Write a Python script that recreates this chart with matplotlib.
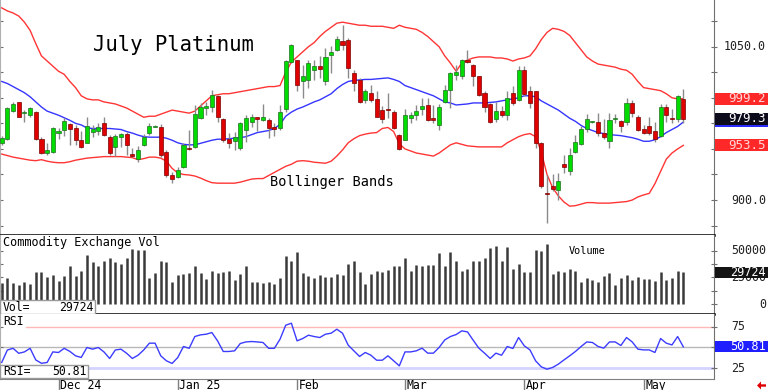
import matplotlib
matplotlib.use('Agg')
import matplotlib.pyplot as plt
import numpy as np
import pandas as pd
from matplotlib.patches import Rectangle, Polygon
from matplotlib.transforms import blended_transform_factory

# ---------------- data ----------------
holidays = ['2024-11-28', '2024-12-25', '2025-01-01', '2025-01-20', '2025-02-17', '2025-04-18']
dates = pd.bdate_range('2024-11-15', '2025-05-12')
dates = dates[~dates.isin(pd.to_datetime(holidays))]

opens = [956, 960, 987, 995.5, 985, 983.3, 986.6, 959.5, 945.8, 947.4,
         965.4, 968.7, 974.2, 970.3, 958.9, 956.2, 966.4, 967.7, 975.2, 962,
         951.7, 961.5, 964.7, 944.8, 940.2, 954, 965.4, 971.5, 971.9, 947.4,
         924.5, 922.3, 932.7, 951, 952.3, 980, 990, 991.5, 1002, 979.4,
         959.5, 957.9, 951.3, 968.7, 976.1, 981, 978.5, 978.5, 971.9, 970.3,
         988.9, 1034.6, 1037.3, 1016.7, 1017.7, 1027.5, 1030.7, 1016.7, 1042.2, 1047.1,
         1055.9, 1056.9, 1024.2, 1017.7, 998.1, 1004.6, 999, 987.6, 988.8, 986.6,
         963.5, 958.9, 980.1, 983.4, 988.9, 993.2, 980.1, 973.6, 996.4, 1007.9,
         1022.6, 1020.9, 1036.6, 1032.4, 1020.9, 1005.2, 993.8, 979.1, 987.3, 983.4,
         1005.2, 998.1, 1027.5, 1006.2, 1006.2, 956.2, 906, 913.7, 909.9, 935.3,
         928.8, 947.4, 954.9, 969.6, 976, 976.5, 966, 957.3, 979, 977.5,
         976.8, 994.8, 981.7, 969.3, 972.6, 967.4, 962.8, 990.9, 979.5, 979.1,
         998.9]
highs = [963, 991, 995.5, 996, 988, 991.5, 987, 962, 955.6, 971,
         970.3, 980, 975.2, 973.6, 967.7, 981.7, 973.6, 975.8, 981.7, 963.8,
         964.7, 965.4, 967, 951.3, 953, 964.7, 975.2, 973, 974.5, 949,
         927.8, 932.7, 955.6, 968.7, 993.2, 994.8, 995.8, 1007.9, 1003, 980.1,
         965.4, 967, 976.8, 983.4, 984, 981.7, 993.8, 980.1, 975.2, 993.2,
         1036.6, 1052.6, 1037.3, 1032.4, 1037.3, 1037.3, 1040.5, 1048.7, 1050.3, 1060.1,
         1071.6, 1058.5, 1027.5, 1019.3, 1008.5, 1012.8, 1006.2, 992.2, 1005.2, 988.3,
         964.7, 989, 986.6, 993.2, 999.7, 999.7, 993.2, 994.2, 1012.8, 1024.9,
         1032.4, 1038, 1046.4, 1033.3, 1021.6, 1006.2, 995.4, 996.4, 992.2, 1006.2,
         1011.1, 1031.4, 1031.4, 1011.1, 1006.2, 957.2, 924.5, 925.5, 926.2, 944.2,
         950.7, 963.8, 972.9, 984.3, 977, 985.6, 979.1, 985, 984, 978.5,
         999.7, 998.1, 983.4, 973.6, 981.7, 976.8, 994.2, 994.2, 989, 1003,
         1008.6]
lows = [954, 959, 986.5, 981, 976, 981.7, 959, 945.1, 944.2, 946.5,
        959.8, 962.8, 954, 954, 950.7, 955.6, 962, 963.8, 962.8, 944.2,
        943.5, 952.3, 944.2, 942.5, 937.6, 953, 963.8, 971, 942.5, 922.9,
        917, 921.3, 931, 949, 950.7, 979.4, 983.4, 986.6, 976.8, 957.2,
        950.7, 949, 949, 957.2, 971.9, 967.7, 977.5, 961.1, 963, 968.7,
        986.6, 1034, 1006.9, 999.7, 1009.5, 1017.7, 1019.3, 1012.8, 1024.2, 1045.4,
        1047.1, 1019.3, 1006.2, 994.8, 995.4, 996.4, 981.1, 975.2, 980.1, 969.3,
        949, 958.9, 975.2, 978.5, 983.4, 977.8, 975.2, 968.7, 994.8, 989.9,
        1017.7, 1018.3, 1034, 1011.1, 1002, 986.6, 975.8, 976.8, 981.1, 978.5,
        993.2, 997, 1002, 989.9, 950.7, 911.5, 877.2, 909.2, 900.1, 926.2,
        924.5, 945.8, 954, 967, 975, 962.8, 959.8, 950.7, 975.2, 967,
        973.6, 981.7, 968, 964.7, 963.8, 957.2, 962, 976.8, 975.2, 976.8,
        975.8]
closes = [961, 990, 994, 981.7, 986, 990.5, 959.8, 946.4, 949, 970.3,
          968, 977.5, 969.6, 958.9, 951.7, 972.9, 969.6, 971.9, 963.7, 946.4,
          962.8, 964.7, 954, 943.5, 949, 961.5, 972.6, 972, 944.2, 924.5,
          920.6, 929.5, 954, 950, 984, 991.5, 992, 1003, 981.7, 958.9,
          956.2, 962, 975.2, 980.7, 981, 979.7, 981.7, 970.3, 969.6, 986.6,
          1035.6, 1051.3, 1012.1, 1020.9, 1034, 1030.7, 1028.4, 1040, 1044.8, 1057.8,
          1051.3, 1029.1, 1014.4, 996.4, 1006.2, 998.1, 981.7, 979.4, 988.3, 970.3,
          949.7, 983.4, 983.4, 987.3, 992.2, 978.5, 978.5, 991.5, 1007.9, 1024.2,
          1024.9, 1036.6, 1034.6, 1020.9, 1003, 991.5, 976.8, 987.3, 983.4, 999.7,
          995.4, 1027.5, 1003.9, 994.8, 956.2, 913.7, 905.6, 910.5, 919, 932.7,
          944.2, 956.6, 969.6, 979.1, 976.5, 966, 962, 978.5, 979.5, 972.6,
          994.8, 985, 968.7, 966, 965.4, 959.5, 991.5, 983.4, 979, 1001.5,
          979.3]
upper_band = [1088, 1085, 1083, 1080, 1074, 1066, 1053, 1041, 1036, 1031,
              1026, 1023, 1016, 1010, 1002, 999, 998, 998, 996, 995,
              994, 992, 990, 987, 984, 981, 982, 982, 984, 986,
              988, 987, 986, 985, 987, 992, 997, 1002, 1003, 1004,
              1004, 1005, 1006, 1007, 1008, 1009, 1010, 1011, 1011, 1012,
              1025, 1035, 1040, 1045, 1050, 1054, 1060, 1065, 1069, 1073,
              1074, 1073, 1072, 1071, 1071, 1070, 1070, 1070, 1069, 1068,
              1071, 1069, 1068, 1067, 1064, 1060, 1055, 1050, 1041, 1034,
              1026, 1034, 1037, 1039, 1040, 1040, 1040, 1039, 1039, 1038,
              1036, 1038, 1039, 1041, 1048, 1057, 1064, 1068, 1067, 1065,
              1061, 1054, 1047, 1040, 1036, 1033, 1032, 1031, 1030, 1028,
              1027, 1023, 1016, 1010, 1009, 1008, 1007, 1004, 1000, 999,
              999.2]
middle_band = [1016, 1014, 1011, 1008, 1005, 1001, 996, 991, 987, 985,
               983, 980.5, 978, 975, 973.5, 970.5, 970, 970, 970, 970,
               969.5, 969, 967, 965.5, 963.5, 962, 961.5, 961.5, 961.5, 960.5,
               958.5, 956, 954.5, 954, 954, 955.5, 957, 958.5, 959.5, 959.5,
               960, 960.5, 961, 962, 964, 966, 967, 968, 970, 974,
               982, 986, 989, 991, 993.5, 996, 998, 1001, 1004, 1009,
               1013, 1016, 1017, 1017.5, 1018, 1018, 1018.5, 1019, 1019.5, 1018,
               1016, 1012, 1010, 1008, 1006, 1004, 1002, 999, 996, 995,
               993, 993.5, 994, 995, 995, 995, 995.5, 996, 997, 998,
               999, 1000, 1002, 1002, 1001, 997, 994, 991, 988, 984,
               980, 977, 973, 970, 968, 966, 965, 964, 963.5, 963,
               962, 961, 959.5, 957.5, 957.5, 959, 962, 966, 969, 972,
               976.3]
lower_band = [945, 943.5, 942, 941, 940, 939, 938.5, 939.5, 938, 937,
              936.5, 936.5, 937.5, 939, 940, 941, 941.5, 942, 942.5, 942.5,
              942.5, 942.5, 942, 941.5, 939.5, 940.5, 942, 942, 941, 938,
              931, 926.5, 925, 924.5, 923.5, 921.5, 919, 917, 916.5, 916.5,
              916.5, 916.5, 917.5, 919, 920.5, 921, 921, 924, 927, 930,
              933, 935, 938, 938.5, 938, 937, 936.5, 936, 938, 943,
              949, 956, 960, 963, 964.5, 965.5, 966, 970, 971, 967,
              955, 950, 948, 946, 945, 944, 943, 946, 950, 954,
              956, 954.5, 953, 952.5, 952, 952, 952, 952, 952, 956,
              959, 962, 964, 965, 962, 947, 925, 912, 904, 898,
              894, 894.5, 896, 897.5, 897.5, 897, 897, 897, 897.5, 898,
              898.5, 900, 903, 905, 906.5, 916, 928, 940, 946, 950,
              953.5]
volume = [20100, 24800, 19500, 17900, 21000, 18900, 29900, 29900, 25200, 27300,
          22000, 26400, 35800, 26400, 31100, 46200, 39000, 35800, 40800, 43100,
          39000, 37700, 43100, 51600, 50900, 50300, 24800, 29500, 40800, 39000,
          21000, 27600, 28300, 28900, 35200, 28900, 23600, 30800, 28900, 29900,
          30800, 22600, 28000, 36100, 20500, 21000, 20100, 20500, 18900, 24200,
          45300, 40500, 49000, 29500, 26400, 24800, 27300, 25200, 25700, 28300,
          27300, 37700, 39900, 29900, 18900, 28000, 30500, 29900, 32100, 35800,
          36100, 43100, 31100, 36800, 35800, 36800, 36800, 47800, 35800, 48800,
          39900, 31100, 33000, 40500, 40800, 43100, 52500, 54000, 39900, 53100,
          33000, 37700, 29900, 29900, 50300, 49300, 55900, 28600, 31400, 29900,
          32700, 31400, 21000, 24200, 22600, 21000, 26400, 28900, 17900, 24800,
          27300, 22600, 25200, 23300, 23300, 22000, 29900, 22600, 24200, 30500,
          29724]
rsi = [32, 47, 49, 43, 44.7, 49, 35, 31, 32, 44.7,
       44, 49, 45.3, 40, 38, 50, 48, 50, 44.7, 36.8,
       47, 48, 43, 36.8, 40.7, 47, 55.2, 55.2, 40, 34,
       30.8, 38, 51.2, 49, 63.2, 65.2, 66, 68, 58, 45.2,
       45.2, 46, 54.8, 56.7, 57.2, 56.7, 56, 49, 49, 60,
       76.8, 79.2, 58, 60.8, 64.8, 63.2, 62, 66, 67.2, 72,
       67.2, 52.8, 46, 39.2, 44, 40.7, 34.7, 34.7, 40, 34,
       27.9, 44.7, 44.7, 46, 49.2, 43.2, 43.2, 50, 59.1, 63.2,
       65.6, 70, 68.8, 58.8, 49.2, 43.2, 36.8, 43.2, 40.7, 51.2,
       48.8, 62, 52, 47.1, 33.9, 26.7, 23.9, 26, 30, 35.1,
       40, 45.2, 51.2, 56.7, 56, 51.2, 49.2, 56.7, 56.7, 52.4,
       62, 56.7, 48, 47.1, 47.1, 44, 60.8, 55.2, 53.1, 63.2,
       50.81]
month_labels = ['Dec 24', 'Jan 25', 'Feb', 'Mar', 'Apr', 'May']
price_labels = [900, 1050]
vol_labels = [0, 25000, 50000]
rsi_labels = [25, 75]

# ---------------- figure ----------------
W, H = 768, 390
MONO = 'DejaVu Sans Mono'
plt.rcParams['font.family'] = [MONO, 'DejaVu Sans']
fig = plt.figure(figsize=(W / 100, H / 100), dpi=100)
fig.patch.set_facecolor('white')


def fy(py):
    return 1 - py / H


PW = 714 / W
ax = fig.add_axes([0, fy(235), PW, 235 / H])
axv = fig.add_axes([0, fy(314), PW, 79 / H])
axr = fig.add_axes([0, fy(379), PW, 65 / H])
axd = fig.add_axes([0, 0, PW, 11 / H])

o = np.array(opens); h = np.array(highs); l = np.array(lows); c = np.array(closes)
x = np.arange(len(c))
XL = (-0.3, 125.4)

for a in (ax, axv, axr, axd):
    a.set_xlim(*XL)
    a.set_xticks([])
    a.set_facecolor('white')

# ---- price panel ----
ax.set_ylim(865.8, 1095.7)
ax.plot(x, upper_band, color='#ff3535', lw=1, zorder=2)
ax.plot(x, lower_band, color='#ff3535', lw=1, zorder=2)
ax.plot(x, middle_band, color='#3535ff', lw=1, zorder=2)
ax.vlines(x, l, h, color='#8a8a8a', lw=1, zorder=3)
up = c >= o
bot = np.minimum(o, c)
bh = np.maximum(np.abs(c - o), 0.9)
ax.bar(x[up], bh[up], bottom=bot[up], width=0.72, color='#00dc00',
       edgecolor='#1f6f1f', linewidth=0.5, zorder=4)
ax.bar(x[~up], bh[~up], bottom=bot[~up], width=0.72, color='#e00000',
       edgecolor='#7a0000', linewidth=0.5, zorder=4)
ax.set_yticks(np.arange(875, 1100, 25))
ax.tick_params(axis='y', left=True, right=True, labelleft=False, labelright=False,
               direction='inout', length=4, color='#707070', width=0.8)
ax.spines['top'].set_visible(False)
ax.spines['left'].set_color('#b0b0b0')
ax.spines['right'].set_color('#707070')
ax.spines['bottom'].set_color('black')
ax.spines['bottom'].set_linewidth(1.8)

tr_main = blended_transform_factory(fig.transFigure, ax.transData)
for v in price_labels:
    ax.text(766 / W, v, f'{v:.1f}', transform=tr_main, ha='right', va='center',
            fontsize=8.4, color='#202020', family=MONO, clip_on=False)

# value boxes main
hm = 12 / 1.022
for v, fc, tc in [(upper_band[-1], '#ff2828', '#ffd6d6'),
                  (lower_band[-1], '#ff2828', '#ffd6d6'),
                  (closes[-1], '#0b0b1c', 'white')]:
    ax.add_patch(Rectangle((715 / W, v - hm / 2), 53 / W, hm, transform=tr_main,
                           facecolor=fc, edgecolor='none', clip_on=False, zorder=10))
    ax.text(766 / W, v, f'{v:.1f}', transform=tr_main, ha='right', va='center',
            fontsize=9, color=tc, family=MONO, clip_on=False, zorder=11)
ax.add_patch(Rectangle((715 / W, closes[-1] - hm / 2 - 2 / 1.022), 53 / W, 2 / 1.022,
                       transform=tr_main, facecolor='#2a2aff', edgecolor='none',
                       clip_on=False, zorder=10))

fig.text(93 / W, fy(45), 'July Platinum', fontsize=14.8, family=MONO, color='black',
         va='center', ha='left')
fig.text(270 / W, fy(182), 'Bollinger Bands', fontsize=9.8, family=MONO, color='black',
         va='center', ha='left')

# ---- volume panel ----
axv.set_ylim(-9380, 64730)
axv.vlines(x, 0, volume, color='#3a3a3a', lw=1.8, zorder=3)
axv.set_yticks(np.arange(0, 62500, 12500))
axv.tick_params(axis='y', left=True, right=True, labelleft=False, labelright=False,
                direction='inout', length=4, color='#707070', width=0.8)
axv.spines['top'].set_visible(False)
axv.spines['left'].set_color('#b0b0b0')
axv.spines['right'].set_color('#707070')
axv.spines['bottom'].set_color('black')
axv.spines['bottom'].set_linewidth(1.8)
tr_vol = blended_transform_factory(fig.transFigure, axv.transData)
for v in vol_labels:
    axv.text(766 / W, v, f'{v}', transform=tr_vol, ha='right', va='center',
             fontsize=8.4, color='#202020', family=MONO, clip_on=False)
hv = 10.7 / 53.3 * 50000
axv.add_patch(Rectangle((715 / W, volume[-1] - hv / 2), 53 / W, hv, transform=tr_vol,
                        facecolor='#141414', edgecolor='none', clip_on=False, zorder=10))
axv.text(766 / W, volume[-1], f'{volume[-1]}', transform=tr_vol, ha='right', va='center',
         fontsize=8.6, color='white', family=MONO, clip_on=False, zorder=11)
fig.text(3 / W, fy(242.7), 'Commodity Exchange Vol', fontsize=8.6, family=MONO,
         color='black', va='center', ha='left')
fig.text(569 / W, fy(251), 'Volume', fontsize=7.4, family=MONO, color='black',
         va='center', ha='left')
axv.add_patch(Rectangle((0, fy(314)), 95 / W, 14 / H, transform=fig.transFigure,
                        facecolor='white', edgecolor='#9a9a9a', lw=1, clip_on=False, zorder=10))
axv.text(3 / W, fy(307.5), 'Vol=', transform=fig.transFigure, fontsize=8.3, family=MONO,
         va='center', ha='left', zorder=11)
axv.text(93 / W, fy(307.5), f'{volume[-1]}', transform=fig.transFigure, fontsize=8.3,
         family=MONO, va='center', ha='right', zorder=11)

# ---- RSI panel ----
axr.set_ylim(12.1, 90.3)
axr.axhline(75, xmin=26 / 714, color='#ffb8b8', lw=1, zorder=1)
axr.axhline(50, color='#b8b8b8', lw=1, zorder=1)
axr.axhline(25, color='#d4d4ff', lw=2, zorder=1)
axr.plot(x, rsi, color='#3c3cff', lw=1, zorder=3)
axr.set_yticks([25, 50, 75])
axr.tick_params(axis='y', left=True, right=True, labelleft=False, labelright=False,
                direction='inout', length=4, color='#707070', width=0.8)
axr.spines['top'].set_visible(False)
axr.spines['left'].set_color('#b0b0b0')
axr.spines['right'].set_color('#707070')
axr.spines['bottom'].set_color('#808080')
tr_rsi = blended_transform_factory(fig.transFigure, axr.transData)
for v in rsi_labels:
    axr.text(731 / W, v, f'{v}', transform=tr_rsi, ha='left', va='center',
             fontsize=8.4, color='#202020', family=MONO, clip_on=False)
hr = 10.7 / 0.832
axr.add_patch(Rectangle((715 / W, rsi[-1] - hr / 2), 53 / W, hr, transform=tr_rsi,
                        facecolor='#1e1eff', edgecolor='none', clip_on=False, zorder=10))
axr.text(766 / W, rsi[-1], f'{rsi[-1]:.2f}', transform=tr_rsi, ha='right', va='center',
         fontsize=8.6, color='white', family=MONO, clip_on=False, zorder=11)
fig.text(3 / W, fy(321.7), 'RSI', fontsize=8.3, family=MONO, color='black',
         va='center', ha='left')
axr.add_patch(Rectangle((0, fy(378)), 88 / W, 13 / H, transform=fig.transFigure,
                        facecolor='white', edgecolor='#9a9a9a', lw=1, clip_on=False, zorder=10))
axr.text(3 / W, fy(371.5), 'RSI=', transform=fig.transFigure, fontsize=8.3, family=MONO,
         va='center', ha='left', zorder=11)
axr.text(87 / W, fy(371.5), f'{rsi[-1]:.2f}', transform=fig.transFigure, fontsize=8.3,
         family=MONO, va='center', ha='right', zorder=11)

# ---- date row ----
axd.set_ylim(0, 1)
axd.axis('off')
month_pos = [i for i in range(1, len(dates)) if dates[i].month != dates[i - 1].month]
for pos, lab in zip(month_pos, month_labels):
    axd.vlines(pos, 0, 1, color='#808080', lw=1)
    axd.text(pos + 0.3, 0.45, lab, fontsize=8.3, family=MONO, va='center', ha='left',
             color='black')

# red arrow bottom-right
arrow = Polygon([(757 / W, fy(385.5)), (761 / W, fy(381.5)), (761 / W, fy(384.3)),
                 (766 / W, fy(384.3)), (766 / W, fy(386.7)), (761 / W, fy(386.7)),
                 (761 / W, fy(389.5))], closed=True, transform=fig.transFigure,
                facecolor='#e00000', edgecolor='none')
fig.patches.append(arrow)

fig.savefig('out.png', dpi=100, facecolor='white')
